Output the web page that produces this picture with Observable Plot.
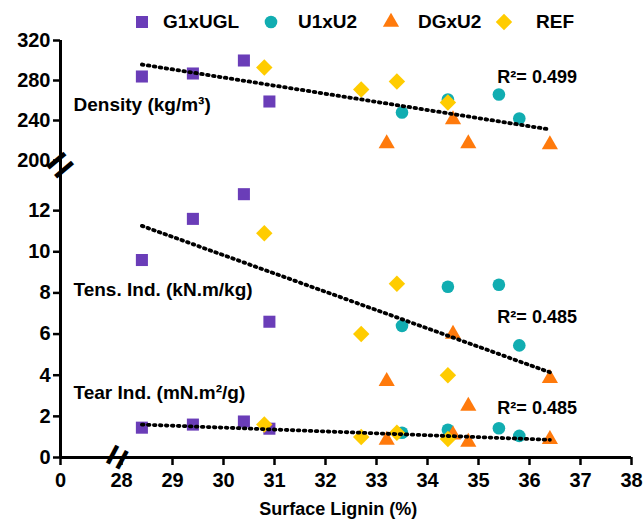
<!DOCTYPE html>
<html><head><meta charset="utf-8">
<script src="https://cdn.jsdelivr.net/npm/d3@7"></script>
<script src="https://cdn.jsdelivr.net/npm/@observablehq/plot@0.6"></script>
<style>
body{margin:0;background:#fff;}
#wrap{width:643px;position:relative;}
#legend{position:relative;height:30px;font:bold 19px "Liberation Sans",Arial,sans-serif;color:#000;}
#legend svg{position:absolute;}
#legend span{position:absolute;line-height:20px;white-space:nowrap;}
</style></head>
<body><div id="wrap"><div id="legend"></div><div id="chart"></div></div>
<script>
// ---- data ----
const seriesNames = ["G1xUGL", "U1xU2", "DGxU2", "REF"];

const g1xuglLignin  = [28.4, 29.4, 30.4, 30.9];
const g1xuglDensity = [284, 287, 300, 259];
const g1xuglTensile = [9.6, 11.6, 12.8, 6.6];
const g1xuglTear    = [1.45, 1.6, 1.75, 1.4];

const u1xu2Lignin  = [33.5, 34.4, 35.4, 35.8];
const u1xu2Density = [248, 261, 266, 242];
const u1xu2Tensile = [6.4, 8.3, 8.4, 5.45];
const u1xu2Tear    = [1.2, 1.35, 1.42, 1.05];

const dgxu2Lignin  = [33.2, 34.5, 34.8, 36.4];
const dgxu2Density = [217, 241, 217, 216];
const dgxu2Tensile = [3.7, 6.0, 2.5, 3.85];
const dgxu2Tear    = [0.85, 1.1, 0.75, 0.88];

const refLignin  = [30.8, 32.7, 33.4, 34.4];
const refDensity = [293, 271, 279, 258];
const refTensile = [10.9, 6.0, 8.45, 4.0];
const refTear    = [1.6, 1.0, 1.2, 0.9];

// trend lines (end points)
const trendLignin  = [28.4, 36.4];
const densityTrend = [296, 231];
const tensileTrend = [11.26, 4.14];
const tearTrend    = [1.6, 0.86];

const r2Labels = ["R²= 0.499", "R²= 0.485", "R²= 0.485"];
const r2Y = [283, 6.84, 2.38];
const r2X = 35.37;
const measureLabels = ["Density (kg/m³)", "Tens. Ind. (kN.m/kg)", "Tear Ind. (mN.m²/g)"];
const measureY = [256, 8.16, 3.15];

const yTicks = [0, 2, 4, 6, 8, 10, 12, 200, 240, 280, 320];
const xTicks = [0, 28, 29, 30, 31, 32, 33, 34, 35, 36, 37, 38];

// ---- styles ----
const colors = {"G1xUGL": "#6a3db8", "U1xU2": "#11adb1", "DGxU2": "#ff7a0c", "REF": "#ffcc00"};
const symbols = {"G1xUGL": "square", "U1xU2": "circle", "DGxU2": "triangle", "REF": "diamond2"};
const radii = {"G1xUGL": 6.8, "U1xU2": 6.3, "DGxU2": 6.0, "REF": 7.4};
const d3sym = {"square": d3.symbolSquare, "circle": d3.symbolCircle, "triangle": d3.symbolTriangle, "diamond2": d3.symbolDiamond2};

const table = [
  ["G1xUGL", g1xuglLignin, g1xuglDensity, g1xuglTensile, g1xuglTear],
  ["U1xU2", u1xu2Lignin, u1xu2Density, u1xu2Tensile, u1xu2Tear],
  ["DGxU2", dgxu2Lignin, dgxu2Density, dgxu2Tensile, dgxu2Tear],
  ["REF", refLignin, refDensity, refTensile, refTear]
].flatMap(([s, x, d, t, r]) => x.map((v, i) => ({series: s, x: v, density: d[i], tensile: t[i], tear: r[i]})));

// ---- legend ----
const legend = document.getElementById("legend");
const legSymX = [142, 271, 391, 504];
const legTextX = [163, 298, 418, 536];
seriesNames.forEach((s, i) => {
  const svg = d3.create("svg").attr("width", 22).attr("height", 22)
    .style("left", (legSymX[i] - 11) + "px").style("top", (22 - 11) + "px");
  svg.append("path").attr("transform", "translate(11,11)")
    .attr("d", d3.symbol(d3sym[symbols[s]], Math.PI * radii[s] * radii[s])())
    .attr("fill", colors[s]);
  legend.appendChild(svg.node());
  const sp = document.createElement("span");
  sp.textContent = s;
  sp.style.left = legTextX[i] + "px";
  sp.style.top = (22 - 10) + "px";
  legend.appendChild(sp);
});

// ---- chart ----
const font = {fontFamily: "'Liberation Sans', Arial, sans-serif", fontWeight: "bold"};
const dotMarks = [];
for (const s of seriesNames) {
  const rows = table.filter(d => d.series === s);
  for (const m of ["density", "tensile", "tear"]) {
    dotMarks.push(Plot.dot(rows, {x: "x", y: m, symbol: () => symbols[s], r: radii[s], fill: colors[s], stroke: "none"}));
  }
}
const trendMarks = [densityTrend, tensileTrend, tearTrend].map(t =>
  Plot.line(trendLignin.map((x, i) => ({x, y: t[i]})), {x: "x", y: "y", stroke: "black", strokeWidth: 3.8, strokeLinecap: "round", strokeDasharray: "1.6,4.4"})
);

const chart = Plot.plot({
  width: 643,
  height: 489,
  marginLeft: 60, marginRight: 12, marginTop: 10, marginBottom: 62,
  x: {type: "linear", domain: [0, 28, 38], range: [60, 121, 631]},
  y: {type: "linear", domain: [0, 14, 200, 320], range: [427, 139, 130, 10]},
  symbol: {type: "identity"},
  style: {background: "white", color: "black", overflow: "visible", fontFamily: font.fontFamily, fontWeight: "bold"},
  marks: [
    Plot.axisY({ticks: yTicks, tickSize: 7, tickPadding: 3, strokeWidth: 2.5, fontSize: 20, ...font, label: null}),
    Plot.axisX({ticks: xTicks, tickSize: 8, tickPadding: 7, strokeWidth: 2.5, fontSize: 20, ...font, label: null}),
    Plot.ruleX([0], {y1: 0, y2: 320, strokeWidth: 3, stroke: "black"}),
    Plot.ruleY([0], {x1: 0, x2: 38, strokeWidth: 3, stroke: "black"}),
    Plot.text(["="], {x: 0, y: 100, text: d => d, rotate: -40, fontSize: 44, ...font, fill: "black"}),
    Plot.text(["="], {x: 26.2, y: 0, text: d => d, rotate: -62, fontSize: 40, ...font, fill: "black"}),
    ...dotMarks,
    ...trendMarks,
    Plot.text(measureLabels, {frameAnchor: "left", y: (d, i) => measureY[i], text: d => d, dx: 13, textAnchor: "start", fontSize: 19, ...font, fill: "black"}),
    Plot.text(r2Labels, {x: r2X, y: (d, i) => r2Y[i], text: d => d, textAnchor: "start", fontSize: 18, ...font, fill: "black"}),
    Plot.text(["Surface Lignin (%)"], {x: 32.25, frameAnchor: "bottom", text: d => d, dy: 57, fontSize: 18, ...font, fill: "black"})
  ]
});
document.getElementById("chart").appendChild(chart);
</script>
</body></html>
